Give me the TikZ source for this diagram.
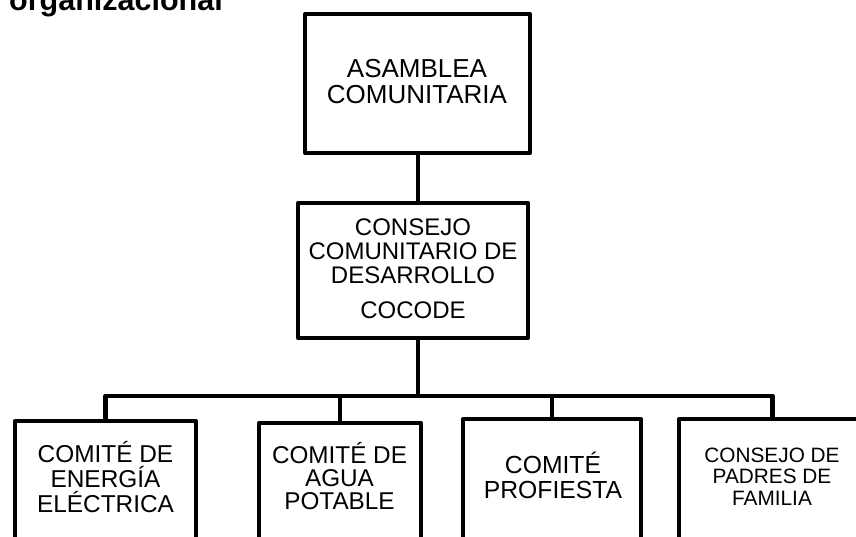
\documentclass[tikz,border=0pt]{standalone}
\usepackage{fontspec}
\setmainfont{Liberation Sans}
\begin{document}
\begin{tikzpicture}[x=1pt,y=-1pt,
  box/.style={draw=black, line width=4pt, line join=round, rectangle, inner sep=0pt, outer sep=0pt, fill=none},
  conn/.style={draw=black, line width=4.5pt, line join=round},
  lbl/.style={anchor=base, align=center, inner sep=0pt, text=black}]
\useasboundingbox (0,0) rectangle (856,536);
\clip (0,0) rectangle (856,536);
% title (partly cut off at the top)
\node[anchor=base west, inner sep=0pt, font=\bfseries\fontsize{30.5}{32}\selectfont] (title) at (9,10) {organizacional};
% boxes
\node[box, minimum width=225pt, minimum height=139pt] (b1) at (417.5,83.5) {};
\node[box, minimum width=230pt, minimum height=135pt] (b2) at (413,270.5) {};
\node[box, minimum width=181pt, minimum height=220pt] (b3) at (105.5,531) {};
\node[box, minimum width=162pt, minimum height=220pt] (b4) at (340,533) {};
\node[box, minimum width=178pt, minimum height=220pt] (b5) at (552,529) {};
\node[box, minimum width=187pt, minimum height=220pt] (b6) at (772.5,529) {};
% texts (anchor base = baseline of the last line)
\node[lbl, font=\fontsize{26}{26}\selectfont] (t1) at (417,103) {ASAMBLEA\\COMUNITARIA};
\node[lbl, font=\fontsize{24}{24}\selectfont] (t2) at (413,318) {CONSEJO\\COMUNITARIO DE\\DESARROLLO\\[11pt]COCODE};
\node[lbl, font=\fontsize{24.4}{25}\selectfont] (t3) at (105.5,512) {COMITÉ DE\\ENERGÍA\\ELÉCTRICA};
\node[lbl, font=\fontsize{24.3}{23}\selectfont] (t4) at (339.5,509) {COMITÉ DE\\AGUA\\POTABLE};
\node[lbl, font=\fontsize{24.7}{25}\selectfont] (t5) at (553,498) {COMITÉ\\PROFIESTA};
\node[lbl, font=\fontsize{20.8}{21.5}\selectfont] (t6) at (772,505) {CONSEJO DE\\PADRES DE\\FAMILIA};
% connectors
\coordinate (bus) at (418,396);
\draw[conn] (b1.south -| bus) -- (b2.north -| bus);
\draw[conn] (b2.south -| bus) -- (bus);
\draw[conn] (b3.north) |- (bus) -| (b6.north);
\draw[conn] (b4.north) |- (bus);
\draw[conn] (b5.north) |- (bus);
\end{tikzpicture}
\end{document}
